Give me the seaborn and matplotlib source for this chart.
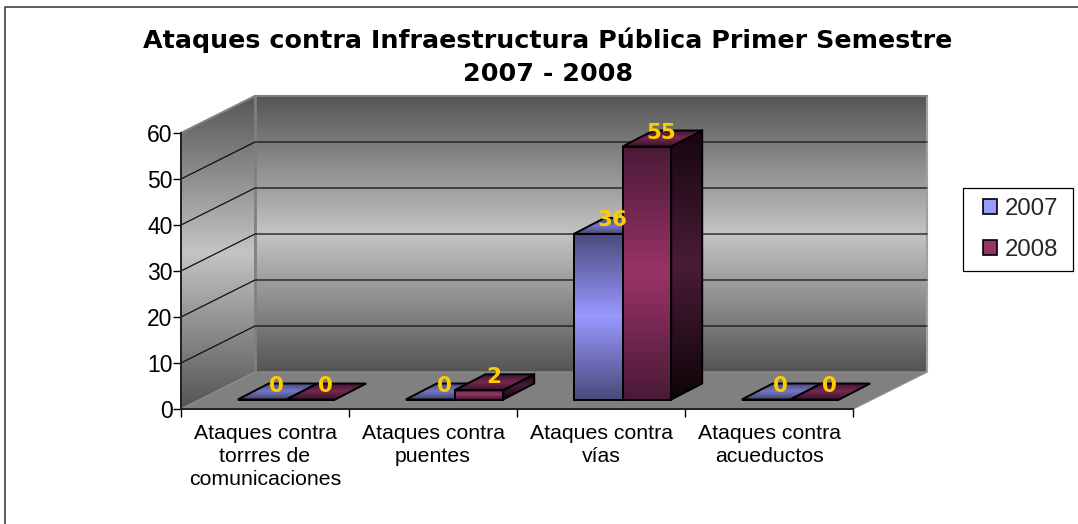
import matplotlib
matplotlib.use("Agg")
import matplotlib.pyplot as plt
import numpy as np
import pandas as pd
import seaborn as sns
from matplotlib.colors import LinearSegmentedColormap
from matplotlib.lines import Line2D
from matplotlib.patches import Polygon, Rectangle
from matplotlib.transforms import Affine2D

TITLE = "Ataques contra Infraestructura Pública Primer Semestre\n2007 - 2008"
CATEGORIES = [
    "Ataques contra\ntorrres de\ncomunicaciones",
    "Ataques contra\npuentes",
    "Ataques contra\nvías",
    "Ataques contra\nacueductos",
]
VALUES_2007 = [0, 0, 36, 0]
VALUES_2008 = [0, 2, 55, 0]
YEARS = ["2007", "2008"]
Y_TICKS = [0, 10, 20, 30, 40, 50, 60]

W, H = 1078, 524
LEFT, RIGHT, BASE, TOP = 181, 853, 409, 133
WALL_DX, WALL_DY = 74, -37
BAR_DX, BAR_DY = 21.5, -9.5
DEPTH_DX, DEPTH_DY = 31, -16

WALL_STOPS = ["#565656", "#c4c4c4", "#545454"]
FRONT = {"2007": ["#4a4a7c", "#9999ff", "#4a4a7c"], "2008": ["#4a1a38", "#993366", "#4a1a38"]}
TOP_FACE = {"2007": ["#45456f", "#7676c4", "#45456f"], "2008": ["#3c142c", "#752850", "#3c142c"]}
SIDE = {"2007": ["#1c1c30", "#3c3c64", "#10101c"], "2008": ["#16060e", "#4a1c38", "#0e0408"]}
LABEL_COLOR = "#ffcc00"
MAIN_FONT = "Liberation Sans"

sns.set_theme(style="white")
plt.rcParams["font.family"] = ["DejaVu Sans"]

fig = plt.figure(figsize=(W / 100, H / 100), dpi=100, facecolor="white")
bg = fig.add_axes([0, 0, 1, 1], zorder=0)
bg.set_xlim(0, W)
bg.set_ylim(H, 0)
bg.set_autoscale_on(False)
bg.axis("off")


def gradient_poly(pts, stops, edge=None, lw=1.0, zorder=2):
    pts = np.array(pts, dtype=float)
    x0, x1 = pts[:, 0].min(), pts[:, 0].max()
    y0, y1 = pts[:, 1].min(), pts[:, 1].max()
    cmap = LinearSegmentedColormap.from_list("g", stops)
    im = bg.imshow(
        np.linspace(0, 1, 256).reshape(-1, 1),
        extent=[x0, x1, y1, y0],
        aspect="auto",
        cmap=cmap,
        zorder=zorder,
        interpolation="bilinear",
    )
    clip = Polygon(pts, closed=True, transform=bg.transData, fill=False, edgecolor="none")
    bg.add_patch(clip)
    im.set_clip_path(clip)
    if edge:
        bg.add_patch(Polygon(pts, closed=True, fill=False, edgecolor=edge, linewidth=lw, zorder=zorder + 0.1))


# walls and floor
back_left, back_right = LEFT + WALL_DX, RIGHT + WALL_DX
back_top, back_base = TOP + WALL_DY, BASE + WALL_DY
gradient_poly([(back_left, back_top), (back_right, back_top), (back_right, back_base), (back_left, back_base)], WALL_STOPS)
gradient_poly([(LEFT, TOP), (back_left, back_top), (back_left, back_base), (LEFT, BASE)], WALL_STOPS)
bg.add_patch(Polygon([(LEFT, BASE), (RIGHT, BASE), (back_right, back_base), (back_left, back_base)],
                     closed=True, facecolor="#808080", edgecolor="#8c8c8c", linewidth=1.0, zorder=2))
bg.plot([back_left, back_left], [back_top, back_base], color="#808080", lw=2, zorder=3)
bg.plot([back_right, back_right], [back_top, back_base], color="#a0a0a0", lw=1.5, zorder=3)
bg.plot([LEFT, back_left, back_right], [TOP, back_top, back_top], color="#808080", lw=1.5, zorder=3)

# bars from seaborn, front faces stay as the outlines
df = pd.DataFrame(
    {
        "categoria": CATEGORIES * 2,
        "valor": VALUES_2007 + VALUES_2008,
        "anio": [YEARS[0]] * 4 + [YEARS[1]] * 4,
    }
)
ax = fig.add_axes([LEFT / W, (H - BASE) / H, (RIGHT - LEFT) / W, (BASE - TOP) / H], zorder=1)
ax.patch.set_alpha(0)
sns.barplot(
    data=df, x="categoria", y="valor", hue="anio", order=CATEGORIES, hue_order=YEARS,
    palette=["#9999ff", "#993366"], width=0.58, gap=0, saturation=1, ax=ax, legend=False,
)
ax.set_xlim(-0.5, 3.5)
ax.set_ylim(0, 60)
ax.set_xlabel("")
ax.set_ylabel("")
ax.set_yticks(Y_TICKS)
ax.set_xticks(np.arange(-0.5, 4, 1), minor=True)
ax.tick_params(axis="x", which="major", length=0, labelsize=15.3, pad=11, labelcolor="black")
ax.tick_params(axis="x", which="minor", length=6, width=1, color="black", bottom=True)
ax.tick_params(axis="y", length=6, width=1, color="black", labelsize=16.5, pad=0, left=True, labelcolor="black")
for lab in ax.get_yticklabels():
    lab.set_fontfamily(MAIN_FONT)
for lab in ax.get_xticklabels():
    lab.set_fontfamily(MAIN_FONT)
    lab.set_linespacing(1.25)
for side in ["top", "right"]:
    ax.spines[side].set_visible(False)
for side in ["left", "bottom"]:
    ax.spines[side].set_color("#202020")
    ax.spines[side].set_linewidth(1.4)

# gridlines on back wall and side wall
for val in Y_TICKS[1:-1]:
    px = H - ax.transData.transform((0, val))[1]
    bg.plot([LEFT, back_left, back_right], [px, px + WALL_DY, px + WALL_DY], color="#101010", lw=0.9, zorder=4)

# extrude each bar
fig.canvas.draw()
shift = Affine2D().translate(BAR_DX, -BAR_DY)
for year, container in zip(YEARS, ax.containers):
    for patch, val in zip(container.patches, df.loc[df["anio"] == year, "valor"]):
        (x0, y0), (x1, y1) = ax.transData.transform(
            [(patch.get_x(), 0), (patch.get_x() + patch.get_width(), patch.get_height())]
        )
        x0, x1 = x0 + BAR_DX, x1 + BAR_DX
        bottom, top = H - y0 + BAR_DY, H - y1 + BAR_DY
        z = 5 + x0 / 10
        if val > 0:
            gradient_poly([(x1, top), (x1 + DEPTH_DX, top + DEPTH_DY), (x1 + DEPTH_DX, bottom + DEPTH_DY), (x1, bottom)],
                          SIDE[year], edge="black", lw=1.4, zorder=z)
            gradient_poly([(x0, bottom), (x1, bottom), (x1, top), (x0, top)],
                          FRONT[year], zorder=z + 0.2)
        gradient_poly([(x0, top), (x1, top), (x1 + DEPTH_DX, top + DEPTH_DY), (x0 + DEPTH_DX, top + DEPTH_DY)],
                      TOP_FACE[year], edge="black", lw=1.4, zorder=z + 0.4)
        patch.set_facecolor("none")
        patch.set_edgecolor("black")
        patch.set_linewidth(1.4)
        patch.set_transform(ax.transData + shift)
        patch.set_clip_on(False)
        ax.annotate(
            str(val),
            (patch.get_x() + patch.get_width() / 2, patch.get_height()),
            xytext=(BAR_DX + 14.5, -BAR_DY + 13.5),
            textcoords="offset pixels",
            ha="center", va="center",
            color=LABEL_COLOR, fontsize=15.5, fontweight="bold", annotation_clip=False, zorder=10,
        )

bg.add_patch(Rectangle((963, 188), 110, 83, facecolor="white", edgecolor="black", linewidth=0.9, zorder=2))
handles = [
    Polygon([(0, 0)], closed=True, facecolor=c, edgecolor="black", linewidth=1.2)
    for c in ["#9999ff", "#993366"]
]
leg = fig.legend(
    handles, YEARS, loc="center left", bbox_to_anchor=(963 / W, 1 - 229.5 / H),
    frameon=False, handlelength=0.55, handleheight=0.55, handletextpad=0.32, labelspacing=0.8,
    borderpad=0.85, borderaxespad=0, prop={"family": MAIN_FONT, "size": 17.3},
)

fig.text(548 / W, 1 - 57 / H, TITLE, ha="center", va="center", fontsize=18.3, fontweight="bold",
         color="black", linespacing=1.45)

fig.add_artist(Line2D([5 / W, 5 / W, 1], [0, 1 - 7 / H, 1 - 7 / H], color="#404040", lw=1.2))

fig.savefig("out.png", dpi=100)
